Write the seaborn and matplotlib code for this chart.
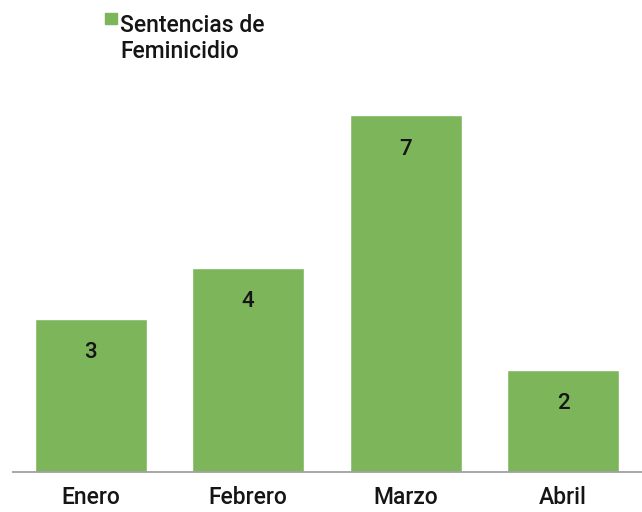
import matplotlib
matplotlib.use("Agg")
import matplotlib.pyplot as plt
import seaborn as sns
import pandas as pd
from matplotlib.patches import Rectangle

meses = ["Enero", "Febrero", "Marzo", "Abril"]
sentencias = [3, 4, 7, 2]
serie = "Sentencias de\nFeminicidio"

GREEN = "#7db65a"
TEXT = "#151515"
FONT = ["Roboto", "DejaVu Sans"]
WEIGHT = "medium"

sns.set_theme(style="white")
plt.rcParams["font.family"] = FONT

df = pd.DataFrame({"mes": meses, "valor": sentencias})

W, H = 642, 512
fig = plt.figure(figsize=(W / 100, H / 100), dpi=100)
base_px = 471.5
unit_px = 50.9
ymax = 8
left_px = 12.7
ax = fig.add_axes([left_px / W, (H - base_px) / H, (W - left_px) / W, ymax * unit_px / H])

sns.barplot(data=df, x="mes", y="valor", color=GREEN, width=0.711, saturation=1, ax=ax)
ax.set_ylim(0, ymax)
ax.set_xlim(-0.494, 3.5)
for s in ["top", "right", "left"]:
    ax.spines[s].set_visible(False)
ax.spines["bottom"].set_color("#a0a0a0")
ax.spines["bottom"].set_linewidth(1.3)
ax.set_xlabel("")
ax.set_ylabel("")
ax.set_yticks([])
ax.set_xticks(range(len(meses)))
ax.set_xticklabels([])
ax.tick_params(axis="x", length=0)

for i, (m, v) in enumerate(zip(meses, sentencias)):
    ax.annotate(str(v), xy=(i, v), xytext=(0, -34 * 0.72), textcoords="offset points",
                ha="center", va="center", fontsize=16, color=TEXT, family=FONT,
                fontweight=WEIGHT)
    ax.annotate(m, xy=(i, 0), xytext=(0, -26 * 0.72), textcoords="offset points",
                ha="center", va="center", fontsize=16.5, color=TEXT, family=FONT,
                fontweight=WEIGHT, annotation_clip=False)

# legend
fig.patches.append(Rectangle((105 / W, (H - 24) / H), 12 / W, 11.5 / H,
                             transform=fig.transFigure, color=GREEN, zorder=5))
lines = serie.split("\n")
fig.text(120 / W, (H - 32) / H, lines[0], ha="left", va="baseline",
         fontsize=16.5, color=TEXT, family=FONT, fontweight=WEIGHT)
fig.text(120 / W, (H - 58.3) / H, lines[1], ha="left", va="baseline",
         fontsize=16.5, color=TEXT, family=FONT, fontweight=WEIGHT)

fig.savefig("out.png", dpi=100)
